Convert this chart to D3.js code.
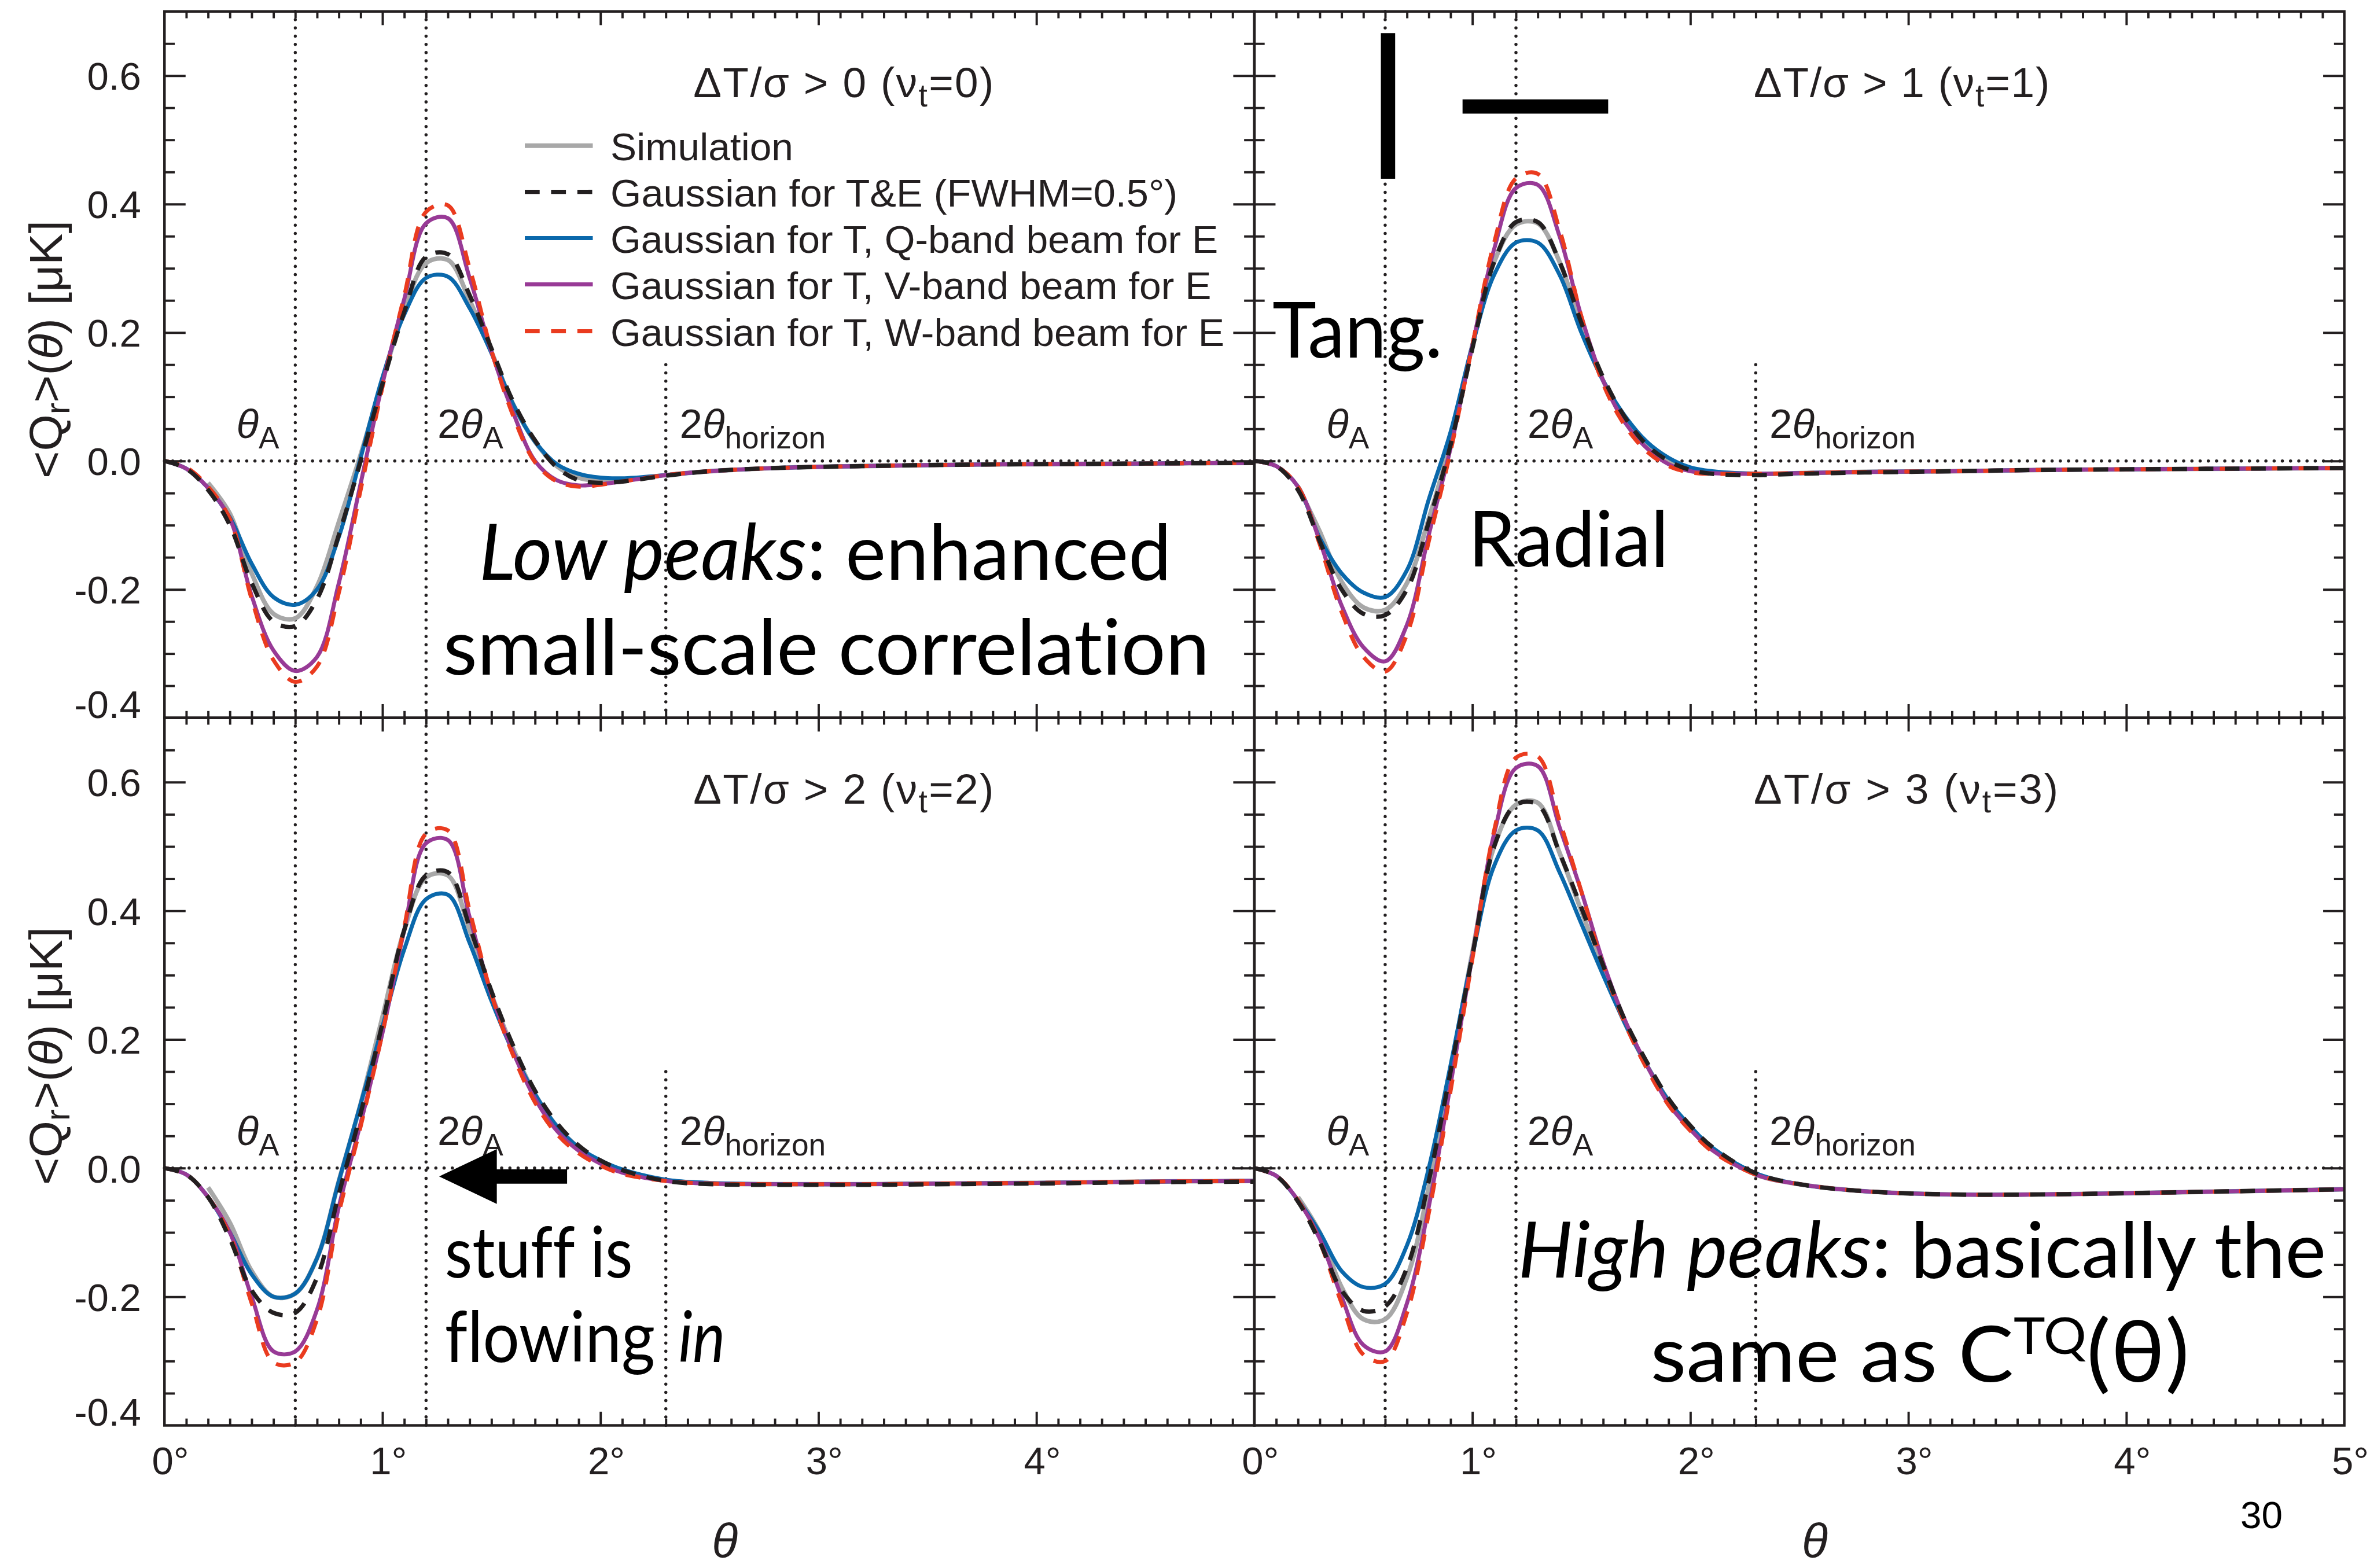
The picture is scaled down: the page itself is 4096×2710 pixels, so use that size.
<!DOCTYPE html>
<html><head><meta charset="utf-8">
<script src="https://cdn.jsdelivr.net/npm/d3@7"></script>
<style>html,body{margin:0;padding:0;background:#fff;overflow:hidden} text{font-variant-ligatures:none;font-feature-settings:"liga" 0,"clig" 0,"dlig" 0}</style>
</head><body>
<svg id="c" width="4096" height="2710"></svg>
<script>
// ---------------- DATA ----------------
const thetaDeg = [0,0.1,0.2,0.3,0.4,0.5,0.6,0.7,0.8,0.9,1.0,1.1,1.2,1.3,1.4,1.5,1.6,1.7,1.8,1.9,2.0,2.1,2.3,2.5,2.8,3.2,3.6,4.0,4.5,5.0];
const xTickLabelsLeft = [0,1,2,3,4];
const xTickLabelsRight = [0,1,2,3,4,5];
const yTickLabels = [-0.4,-0.2,0.0,0.2,0.4,0.6];
const panelThresholds = ["0","1","2","3"];
const legendLabels = ["Simulation","Gaussian for T&E (FWHM=0.5°)","Gaussian for T, Q-band beam for E","Gaussian for T, V-band beam for E","Gaussian for T, W-band beam for E"];
const refLines = [0.6, 1.2, 2.3]; // thetaA, 2thetaA, 2theta_horizon (deg)

// nu_t = 0
const sim0 = [null,null,-0.034,-0.082,-0.175,-0.238,-0.245,-0.195,-0.095,0.01,0.125,0.235,0.308,0.313,0.25,0.17,0.088,0.03,-0.008,-0.026,-0.031,-0.03,-0.022,-0.016,-0.011,-0.008,-0.006,-0.005,-0.004,-0.003];
const te0  = [0,-0.012,-0.045,-0.1,-0.19,-0.25,-0.257,-0.215,-0.115,0.0,0.12,0.232,0.318,0.322,0.258,0.175,0.092,0.032,-0.01,-0.03,-0.034,-0.032,-0.023,-0.016,-0.011,-0.008,-0.006,-0.005,-0.004,-0.003];
const q0   = [0,-0.012,-0.042,-0.088,-0.16,-0.212,-0.224,-0.2,-0.118,0.005,0.13,0.228,0.285,0.287,0.238,0.168,0.088,0.03,-0.005,-0.02,-0.026,-0.027,-0.022,-0.016,-0.011,-0.008,-0.006,-0.005,-0.004,-0.003];
const v0   = [0,-0.012,-0.042,-0.09,-0.21,-0.295,-0.327,-0.305,-0.19,-0.035,0.12,0.252,0.37,0.378,0.285,0.17,0.075,0.0,-0.03,-0.038,-0.036,-0.032,-0.022,-0.016,-0.011,-0.008,-0.006,-0.005,-0.004,-0.003];
const w0   = [0,-0.01,-0.04,-0.09,-0.215,-0.31,-0.344,-0.32,-0.205,-0.045,0.115,0.257,0.388,0.398,0.3,0.172,0.07,-0.002,-0.032,-0.04,-0.037,-0.032,-0.022,-0.016,-0.011,-0.008,-0.006,-0.005,-0.004,-0.003];
// nu_t = 1
const sim1 = [null,null,-0.04,-0.11,-0.188,-0.228,-0.232,-0.19,-0.09,0.03,0.18,0.31,0.368,0.37,0.31,0.21,0.125,0.065,0.025,0.0,-0.012,-0.017,-0.02,-0.019,-0.017,-0.016,-0.014,-0.013,-0.012,-0.011];
const te1  = [0,-0.008,-0.045,-0.125,-0.2,-0.238,-0.24,-0.2,-0.095,0.025,0.175,0.31,0.372,0.372,0.31,0.215,0.13,0.068,0.025,0.0,-0.014,-0.02,-0.022,-0.02,-0.018,-0.016,-0.014,-0.013,-0.012,-0.011];
const q1   = [0,-0.008,-0.04,-0.12,-0.175,-0.205,-0.212,-0.17,-0.06,0.045,0.18,0.29,0.34,0.34,0.29,0.2,0.125,0.07,0.03,0.005,-0.01,-0.016,-0.02,-0.019,-0.017,-0.016,-0.014,-0.013,-0.012,-0.011];
const v1   = [0,-0.008,-0.04,-0.125,-0.225,-0.29,-0.312,-0.255,-0.115,0.02,0.18,0.33,0.425,0.43,0.35,0.225,0.125,0.06,0.02,-0.005,-0.016,-0.019,-0.02,-0.019,-0.017,-0.016,-0.014,-0.013,-0.012,-0.011];
const w1   = [0,-0.008,-0.04,-0.13,-0.235,-0.305,-0.328,-0.27,-0.125,0.015,0.18,0.34,0.44,0.447,0.36,0.225,0.12,0.055,0.015,-0.008,-0.018,-0.02,-0.02,-0.019,-0.017,-0.016,-0.014,-0.013,-0.012,-0.011];
// nu_t = 2
const sim2 = [null,null,-0.03,-0.085,-0.16,-0.2,-0.195,-0.14,-0.02,0.1,0.235,0.37,0.452,0.455,0.37,0.27,0.185,0.115,0.065,0.032,0.01,-0.005,-0.019,-0.024,-0.025,-0.025,-0.024,-0.023,-0.021,-0.02];
const te2  = [0,-0.01,-0.045,-0.11,-0.19,-0.225,-0.225,-0.17,-0.04,0.085,0.225,0.37,0.455,0.46,0.375,0.275,0.19,0.12,0.07,0.035,0.012,-0.003,-0.02,-0.025,-0.026,-0.026,-0.025,-0.024,-0.022,-0.021];
const q2   = [0,-0.01,-0.045,-0.1,-0.165,-0.2,-0.195,-0.14,-0.02,0.1,0.22,0.34,0.418,0.425,0.35,0.26,0.18,0.115,0.065,0.032,0.012,-0.002,-0.018,-0.023,-0.025,-0.025,-0.024,-0.023,-0.021,-0.02];
const v2   = [0,-0.01,-0.045,-0.1,-0.2,-0.285,-0.285,-0.22,-0.06,0.07,0.21,0.37,0.505,0.51,0.39,0.27,0.18,0.108,0.058,0.027,0.007,-0.007,-0.02,-0.024,-0.025,-0.025,-0.024,-0.023,-0.021,-0.02];
const w2   = [0,-0.01,-0.045,-0.105,-0.21,-0.302,-0.302,-0.235,-0.07,0.065,0.21,0.375,0.52,0.525,0.40,0.27,0.175,0.102,0.053,0.023,0.004,-0.009,-0.02,-0.024,-0.025,-0.025,-0.024,-0.023,-0.021,-0.02];
// nu_t = 3
const sim3 = [null,null,-0.045,-0.1,-0.185,-0.235,-0.235,-0.17,-0.03,0.15,0.335,0.5,0.565,0.568,0.49,0.4,0.31,0.225,0.16,0.105,0.063,0.03,-0.01,-0.025,-0.036,-0.041,-0.041,-0.039,-0.036,-0.033];
const te3  = [0,-0.012,-0.052,-0.115,-0.19,-0.222,-0.215,-0.155,-0.02,0.15,0.33,0.5,0.565,0.565,0.49,0.405,0.315,0.23,0.165,0.108,0.066,0.033,-0.008,-0.025,-0.036,-0.041,-0.041,-0.039,-0.036,-0.033];
const q3   = [0,-0.012,-0.05,-0.1,-0.16,-0.185,-0.18,-0.12,0.0,0.16,0.33,0.47,0.525,0.525,0.46,0.38,0.3,0.225,0.16,0.105,0.065,0.032,-0.008,-0.025,-0.036,-0.041,-0.041,-0.039,-0.036,-0.033];
const v3   = [0,-0.012,-0.05,-0.11,-0.2,-0.275,-0.285,-0.21,-0.06,0.13,0.33,0.52,0.622,0.625,0.53,0.43,0.32,0.23,0.16,0.10,0.06,0.028,-0.01,-0.025,-0.036,-0.041,-0.041,-0.039,-0.036,-0.033];
const w3   = [0,-0.012,-0.05,-0.115,-0.21,-0.29,-0.3,-0.225,-0.07,0.12,0.325,0.525,0.638,0.64,0.54,0.43,0.315,0.225,0.155,0.098,0.058,0.026,-0.01,-0.025,-0.036,-0.041,-0.041,-0.039,-0.036,-0.033];

const panelData = [
  {sim:sim0, te:te0, q:q0, v:v0, w:w0},
  {sim:sim1, te:te1, q:q1, v:v1, w:w1},
  {sim:sim2, te:te2, q:q2, v:v2, w:w2},
  {sim:sim3, te:te3, q:q3, v:v3, w:w3}
];

// ---------------- STYLE / LAYOUT ----------------
const S = 4096/4150;
const INK = "#231f20";
const seriesStyle = [
  {key:"sim", color:"#a8a8a8", dash:null,    width:8},
  {key:"te",  color:"#231f20", dash:"26,20", width:7.5},
  {key:"q",   color:"#0a68ab", dash:null,    width:7},
  {key:"v",   color:"#983a96", dash:null,    width:7},
  {key:"w",   color:"#ea3b1f", dash:"26,20", width:7}
];
const drawOrder = ["sim","q","v","w","te"];
const colX = [288, 2196.5], PW = 1908.5;
const rowY = [[20,1257],[1257,2496]];

const svg = d3.select("#c");
const root = svg.append("g").attr("transform", `scale(${S})`);

const SANS = "'Liberation Sans', Arial, Helvetica, sans-serif";

function panel(idx) {
  const col = idx % 2, row = Math.floor(idx/2);
  const x = d3.scaleLinear().domain([0,5]).range([colX[col], colX[col]+PW]);
  const y = d3.scaleLinear().domain([-0.4,0.7]).range([rowY[row][1], rowY[row][0]]);
  const g = root.append("g");

  // reference dotted lines
  const dot = {stroke:INK, "stroke-width":5.5, "stroke-linecap":"round", "stroke-dasharray":"0.1,14.3"};
  function dl(x1,y1,x2,y2){ const l=g.append("line").attr("x1",x1).attr("y1",y1).attr("x2",x2).attr("y2",y2); for(const k in dot) l.attr(k,dot[k]); }
  dl(x(0), y(0), x(5), y(0));
  dl(x(refLines[0]), y(0.7), x(refLines[0]), y(-0.4));
  dl(x(refLines[1]), y(0.7), x(refLines[1]), y(-0.4));
  dl(x(refLines[2]), y(0.15), x(refLines[2]), y(-0.4));

  // ref labels
  const lab = g.append("g").attr("font-family", SANS).attr("fill", INK).attr("font-size", 72);
  const by = y(0) - 40;
  const t1 = lab.append("text").attr("x", x(refLines[0]) - 28).attr("y", by).attr("text-anchor","end");
  t1.append("tspan").attr("font-style","italic").text("θ");
  t1.append("tspan").attr("font-size",54).attr("dy",18).text("A");
  const t2 = lab.append("text").attr("x", x(refLines[1]) + 20).attr("y", by);
  t2.append("tspan").text("2");
  t2.append("tspan").attr("font-style","italic").text("θ");
  t2.append("tspan").attr("font-size",54).attr("dy",18).text("A");
  const t3 = lab.append("text").attr("x", x(refLines[2]) + 24).attr("y", by);
  t3.append("tspan").text("2");
  t3.append("tspan").attr("font-style","italic").text("θ");
  t3.append("tspan").attr("font-size",54).attr("dy",18).text("horizon");

  // curves
  const data = panelData[idx];
  const line = d3.line().defined(d => d[1] !== null)
    .x(d => x(d[0])).y(d => y(d[1])).curve(d3.curveCatmullRom.alpha(0.5));
  drawOrder.forEach(k => {
    const st = seriesStyle.find(s => s.key === k);
    const pts = thetaDeg.map((t,i) => [t, data[k][i]]);
    g.append("path").attr("d", line(pts)).attr("fill","none")
      .attr("stroke", st.color).attr("stroke-width", st.width)
      .attr("stroke-dasharray", st.dash).attr("stroke-linejoin","round");
  });

  // axes (inward ticks on all four sides)
  const xMinor = d3.range(1,50).map(i => i/10).filter(v => Math.abs(v - Math.round(v)) > 1e-6);
  const xMajor = [1,2,3,4];
  const yMinor = d3.range(-7,14).map(i => i*0.05).filter(v => Math.abs(v/0.2 - Math.round(v/0.2)) > 1e-6);
  const yMajor = [-0.2,0,0.2,0.4,0.6];
  function ax(axisFn, scale, vals, size, tr) {
    const a = g.append("g").attr("transform", tr).call(axisFn(scale).tickValues(vals).tickSize(-size).tickFormat(""));
    a.select(".domain").remove();
    a.selectAll(".tick line").attr("stroke", INK).attr("stroke-width", 4);
    return a;
  }
  const yb = rowY[row][1], yt = rowY[row][0], xl = colX[col], xr = colX[col]+PW;
  ax(d3.axisBottom, x, xMinor, 12, `translate(0,${yb})`);
  ax(d3.axisBottom, x, xMajor, 24, `translate(0,${yb})`);
  ax(d3.axisTop, x, xMinor, 12, `translate(0,${yt})`);
  ax(d3.axisTop, x, xMajor, 24, `translate(0,${yt})`);
  ax(d3.axisLeft, y, yMinor, 18, `translate(${xl},0)`);
  ax(d3.axisLeft, y, yMajor, 37, `translate(${xl},0)`);
  ax(d3.axisRight, y, yMinor, 18, `translate(${xr},0)`);
  ax(d3.axisRight, y, yMajor, 37, `translate(${xr},0)`);

  // frame
  g.append("rect").attr("x", xl).attr("y", yt).attr("width", PW).attr("height", yb-yt)
    .attr("fill","none").attr("stroke", INK).attr("stroke-width", 4.5);

  // tick labels
  if (col === 0) {
    const a = g.append("g").attr("transform", `translate(${xl},0)`)
      .call(d3.axisLeft(y).tickValues(yTickLabels).tickSize(0).tickPadding(41).tickFormat(d => d.toFixed(1)));
    a.select(".domain").remove();
    a.selectAll("text").attr("font-family", SANS).attr("font-size", 68).attr("fill", INK)
      .attr("dy", d => d === -0.4 ? "0em" : "0.36em");
  }
  if (row === 1) {
    const vals = col === 0 ? xTickLabelsLeft : xTickLabelsRight;
    const a = g.append("g").attr("transform", `translate(0,${yb})`)
      .call(d3.axisBottom(x).tickValues(vals).tickSize(0).tickPadding(37).tickFormat(d => d + "°"));
    a.select(".domain").remove();
    a.selectAll("text").attr("font-family", SANS).attr("font-size", 68).attr("fill", INK).attr("dx", 10);
    // axis title
    root.append("text").attr("x", (xl+xr)/2 + 27).attr("y", 2727).attr("text-anchor","middle")
      .attr("font-family", SANS).attr("font-style","italic").attr("font-size", 84).attr("fill", INK).text("θ");
  }
  if (col === 0) {
    const cy = yt + 592;
    const t = root.append("text").attr("transform", `translate(108,${cy}) rotate(-90)`)
      .attr("text-anchor","middle").attr("font-family", SANS).attr("font-size", 80).attr("fill", INK)
      .attr("textLength", 452).attr("lengthAdjust","spacingAndGlyphs");
    t.append("tspan").text("<Q");
    t.append("tspan").attr("font-size", 60).attr("dy", 14).text("r");
    t.append("tspan").attr("dy", -14).text(">(");
    t.append("tspan").attr("font-style","italic").text("θ");
    t.append("tspan").text(")  [μK]");
  }

  // panel title
  const tt = root.append("text").attr("x", [1214,3071,1214,3071][idx]).attr("y", yt + 150)
    .attr("font-family", SANS).attr("font-size", 74).attr("fill", INK)
    .attr("textLength", [526,518,526,533][idx]).attr("lengthAdjust","spacing");
  tt.append("tspan").text(`ΔT/σ > ${panelThresholds[idx]} (ν`);
  tt.append("tspan").attr("font-size", 56).attr("dy", 16).text("t");
  tt.append("tspan").attr("dy", -16).text(`=${panelThresholds[idx]})`);

  return {x, y, g};
}

const panels = [0,1,2,3].map(panel);

// legend (top-left panel)
const lg = root.append("g");
const legendRows = [255, 336, 417, 498, 580];
const legendLens = [320, 993, 1064, 1052, 1075];
seriesStyle.forEach((st, i) => {
  lg.append("line").attr("x1", 919).attr("x2", 1038).attr("y1", legendRows[i]).attr("y2", legendRows[i])
    .attr("stroke", st.color).attr("stroke-width", st.width).attr("stroke-dasharray", st.dash ? "26,20" : null);
  lg.append("text").attr("x", 1069).attr("y", legendRows[i] + 26).attr("font-family", SANS)
    .attr("font-size", 68).attr("fill", INK).attr("textLength", legendLens[i]).attr("lengthAdjust","spacingAndGlyphs")
    .text(legendLabels[i]);
});

// big annotations
const BIG = "Lato, 'Open Sans', sans-serif";
function big(x, y, len, parts, size) {
  const t = root.append("text").attr("x", x).attr("y", y).attr("font-family", BIG)
    .attr("font-size", size || 136).attr("fill", "#000")
    .attr("textLength", len).attr("lengthAdjust", "spacingAndGlyphs");
  parts.forEach(p => {
    const ts = t.append("tspan").text(p.t);
    if (p.i) ts.attr("font-style", "italic");
    if (p.fs) ts.attr("font-size", p.fs);
    if (p.dy) ts.attr("dy", p.dy);
  });
  return t;
}
big(839, 1015, 1212, [{t:"Low peaks", i:true}, {t:": enhanced"}]);
big(776, 1181, 1342, [{t:"small-scale correlation"}]);
big(2228, 626, 298, [{t:"Tang."}]);
big(2571, 992, 351, [{t:"Radial"}]);
big(779, 2237, 329, [{t:"stuff is"}], 124);
big(779, 2385, 368, [{t:"flowing"}], 124);
big(1188, 2385, 82, [{t:"in", i:true}], 124);
big(2658, 2237, 1415, [{t:"High peaks", i:true}, {t:": basically the"}]);
big(2890, 2419, 944, [{t:"same as C"}, {t:"TQ", fs:88, dy:-48}, {t:"(θ)", fs:150, dy:48}]);

// tangential / radial glyph bars
root.append("rect").attr("x", 2418).attr("y", 58).attr("width", 25).attr("height", 255).attr("fill", "#000");
root.append("rect").attr("x", 2561).attr("y", 174).attr("width", 255).attr("height", 25).attr("fill", "#000");

// arrow in bottom-left panel (data coords)
{
  const {x, y} = panels[2];
  const tipX = x(1.26), tailX = x(1.847), cy = y(-0.013);
  const headX = tipX + 101;
  const path = d3.path();
  path.moveTo(tipX, cy);
  path.lineTo(headX, cy - 48);
  path.lineTo(headX, cy - 12.5);
  path.lineTo(tailX, cy - 12.5);
  path.lineTo(tailX, cy + 12.5);
  path.lineTo(headX, cy + 12.5);
  path.lineTo(headX, cy + 48);
  path.closePath();
  root.append("path").attr("d", path.toString()).attr("fill", "#000");
}

// page number
root.append("text").attr("x", 3923).attr("y", 2676).attr("font-family", SANS).attr("font-size", 66)
  .attr("fill", "#000").attr("textLength", 74).attr("lengthAdjust","spacingAndGlyphs").text("30");
</script>
</body></html>
